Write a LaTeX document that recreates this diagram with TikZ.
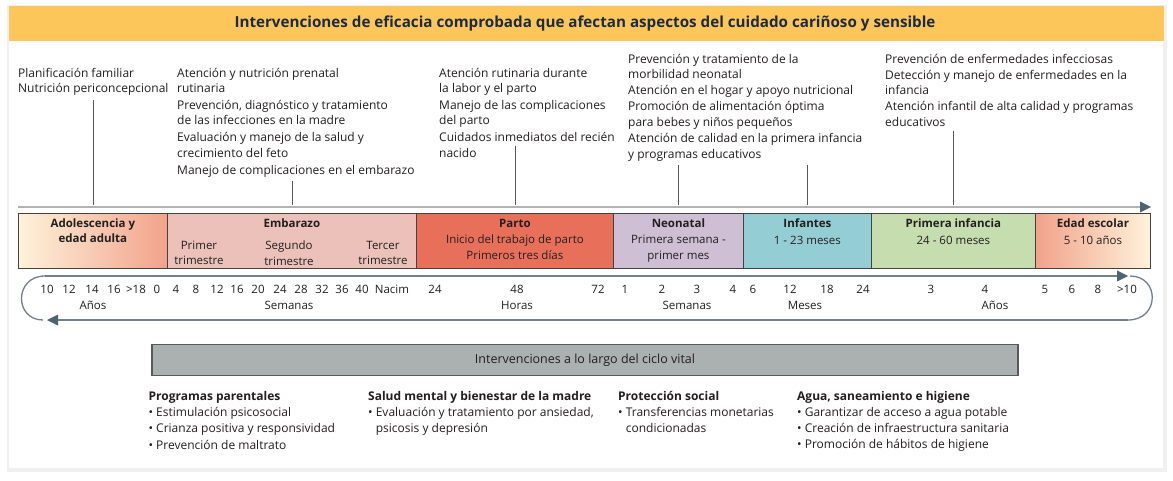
\documentclass[tikz,border=0pt]{standalone}
\usepackage{fontspec}
\setmainfont{Open Sans}
\newfontfamily\headfont{Open Sans}
\usetikzlibrary{arrows.meta,positioning}
\definecolor{headbg}{HTML}{FCC65B}
\definecolor{headtxt}{HTML}{1C2B40}
\definecolor{ink}{HTML}{231F20}
\definecolor{crema}{HTML}{FEF2DA}
\definecolor{salmon}{HTML}{F2A28B}
\definecolor{embarazo}{HTML}{EBC1B9}
\definecolor{parto}{HTML}{E8705B}
\definecolor{neonatal}{HTML}{CEBFD5}
\definecolor{infantes}{HTML}{95CDD4}
\definecolor{primera}{HTML}{C6DDB0}
\definecolor{eje}{HTML}{71808A}
\definecolor{punta}{HTML}{4E6472}
\definecolor{ciclo}{HTML}{ABB0B1}

\begin{document}
\begin{tikzpicture}[x=1pt,y=-1pt,
  txt/.style={anchor=north west,align=left,inner sep=0pt,text=ink,font=\fontsize{12}{15.5}\selectfont},
  lista/.style={txt,font=\fontsize{12}{16.2}\selectfont},
  fase/.style={draw=ink!85,line width=0.8pt,minimum height=55pt,inner sep=0pt,anchor=north west},
  ftit/.style={font=\fontsize{11.5}{15}\selectfont\bfseries,text=ink,inner sep=0pt,align=center},
  fsub/.style={font=\fontsize{11.5}{15.5}\selectfont,text=ink,inner sep=0pt,align=center},
  num/.style={font=\fontsize{11.5}{14}\selectfont,text=ink,inner sep=0pt},
  guia/.style={draw=ink!75,line width=0.8pt},
  eje/.style={draw=eje,line width=1.3pt}
]
\useasboundingbox (0,0) rectangle (1173,481);
\fill[black!6] (7,5) rectangle (1167,472);
\fill[white] (9,6) rectangle (1163,468);
\fill[headbg] (9,6) rectangle (1164,41);
\node[font=\headfont\fontsize{15.2}{18}\selectfont\bfseries,text=headtxt] (titulo) at (585,24)
  {Intervenciones de eficacia comprobada que afectan aspectos del cuidado cariñoso y sensible};

\node[txt] (planif) at (18,68) {Planificación familiar\\Nutrición periconcepcional};
\node[txt] (prenatal) at (177,68) {Atención y nutrición prenatal\\rutinaria\\[1pt]
  Prevención, diagnóstico y tratamiento\\de las infecciones en la madre\\[1.5pt]
  Evaluación y manejo de la salud y\\crecimiento del feto\\[1.5pt]
  Manejo de complicaciones en el embarazo};
\node[txt] (labor) at (439,68) {Atención rutinaria durante\\la labor y el parto\\[1pt]
  Manejo de las complicaciones\\del parto\\[1.5pt]
  Cuidados inmediatos del recién\\nacido};
\node[txt] (morbi) at (628,54) {Prevención y tratamiento de la\\morbilidad neonatal\\[0.5pt]
  Atención en el hogar y apoyo nutricional\\[0.5pt]
  Promoción de alimentación óptima\\para bebes y niños pequeños\\[1pt]
  Atención de calidad en la primera infancia\\y programas educativos};
\node[txt] (infecc) at (885,54) {Prevención de enfermedades infecciosas\\[0.5pt]
  Detección y manejo de enfermedades en la\\infancia\\[0.5pt]
  Atención infantil de alta calidad y programas\\educativos};

\draw[line width=2.2pt,draw=black!30] (18,207) -- (1142,207);
\fill[punta] (1140,201.5) -- (1151,207) -- (1140,212.5) -- cycle;

\node[fase,minimum width=149pt,left color=crema,right color=salmon] (adol) at (18,213) {};
\node[fase,minimum width=249pt,fill=embarazo] (emb) at (167,213) {};
\node[fase,minimum width=197pt,fill=parto] (parto) at (416,213) {};
\node[fase,minimum width=130pt,fill=neonatal] (neo) at (613,213) {};
\node[fase,minimum width=128pt,fill=infantes] (inf) at (743,213) {};
\node[fase,minimum width=164pt,fill=primera] (pinf) at (871,213) {};
\node[fase,minimum width=115pt,left color=salmon,right color=crema] (esc) at (1035,213) {};

\node[ftit,below=6pt of adol.north] (tadol) {Adolescencia y\\edad adulta};
\node[ftit,below=6pt of emb.north] (temb) {Embarazo};
\node[fsub] (tri1) at (199,253) {Primer\\trimestre};
\node[fsub] (tri2) at (289,253) {Segundo\\trimestre};
\node[fsub] (tri3) at (383,253) {Tercer\\trimestre};
\node[ftit,below=6pt of parto.north] (tparto) {Parto};
\node[fsub,below=7pt of tparto] {Inicio del trabajo de parto\\Primeros tres días};
\node[ftit,below=6pt of neo.north] (tneo) {Neonatal};
\node[fsub,below=7pt of tneo] {Primera semana -\\primer mes};
\node[ftit,below=6pt of inf.north] (tinf) {Infantes};
\node[fsub,below=8pt of tinf] {1 - 23 meses};
\node[ftit,below=6pt of pinf.north] (tpinf) {Primera infancia};
\node[fsub,below=8pt of tpinf] {24 - 60 meses};
\node[ftit,below=6pt of esc.north] (tesc) {Edad escolar};
\node[fsub,below=8pt of tesc] {5 - 10 años};

\draw[guia] ([yshift=-4pt]planif.south -| adol.north) -- ([yshift=8pt]adol.north);
\draw[guia] ([yshift=-4pt]prenatal.south -| emb.north) -- ([yshift=8pt]emb.north);
\draw[guia] ([yshift=12pt]labor.south -| parto.north) -- ([yshift=8pt]parto.north);
\draw[guia] ([yshift=-4pt]morbi.south -| neo.north) -- ([yshift=8pt]neo.north);
\draw[guia] ([yshift=-4pt]morbi.south -| inf.north) -- ([yshift=8pt]inf.north);
\draw[guia] ([yshift=-4pt]infecc.south -| pinf.north) -- ([yshift=8pt]pinf.north);

\coordinate (tl) at (45,276);
\coordinate (tr) at (1128,276);
\coordinate (br) at (1128,320);
\coordinate (bl) at (47,320);
\draw[eje] ([xshift=2pt]tr) .. controls (1160,276) and (1160,320) .. (br);
\draw[eje] (tl) .. controls (14,276) and (14,320) .. ([xshift=-4pt]bl);
\draw[eje] (tl) -- ([xshift=-8pt]tr);
\draw[eje] (br) -- ([xshift=8pt]bl);
\fill[punta] (tr) -- ++(-11,-5.5) -- ++(0,11) -- cycle;
\fill[punta] (bl) -- ++(11,-5.5) -- ++(0,11) -- cycle;

\foreach \x/\t in {47/10,69/12,92/14,114/16,136/{>18},157/0,176/4,196/8,217/12,237/16,258/20,
  280/24,301/28,322/32,342/36,362/40,392/Nacim,435/24,517/48,598/72,625/1,662/2,697/3,733/4,
  753/6,790/12,827/18,863/24,931/3,985/4,1045/5,1072/6,1098/8,1127/{>10}}
  \node[num] (n\x) at (\x,289) {\t};
\foreach \x/\t in {93/Años,289/Semanas,517/Horas,687/Semanas,805/Meses,995/Años}
  \node[num] (u\x) at (\x,305) {\t};

\node[draw=black!65,line width=1.2pt,fill=ciclo,minimum width=866pt,minimum height=31pt,
  font=\fontsize{12.5}{14}\selectfont,text=ink] (vital) at (585,360) {Intervenciones a lo largo del ciclo vital};

\node[lista,below right=15pt and -3pt of vital.south west] (parent) {\textbf{Programas parentales}\\
  \textbullet\ Estimulación psicosocial\\\textbullet\ Crianza positiva y responsividad\\
  \textbullet\ Prevención de maltrato};
\node[lista] (mental) at (368,391) {\textbf{Salud mental y bienestar de la madre}\\
  \textbullet\ Evaluación y tratamiento por ansiedad,\\\phantom{\textbullet\ }psicosis y depresión};
\node[lista] (social) at (618,391) {\textbf{Protección social}\\
  \textbullet\ Transferencias monetarias\\\phantom{\textbullet\ }condicionadas};
\node[lista] (agua) at (797,391) {\textbf{Agua, saneamiento e higiene}\\
  \textbullet\ Garantizar de acceso a agua potable\\\textbullet\ Creación de infraestructura sanitaria\\
  \textbullet\ Promoción de hábitos de higiene};
\end{tikzpicture}
\end{document}
